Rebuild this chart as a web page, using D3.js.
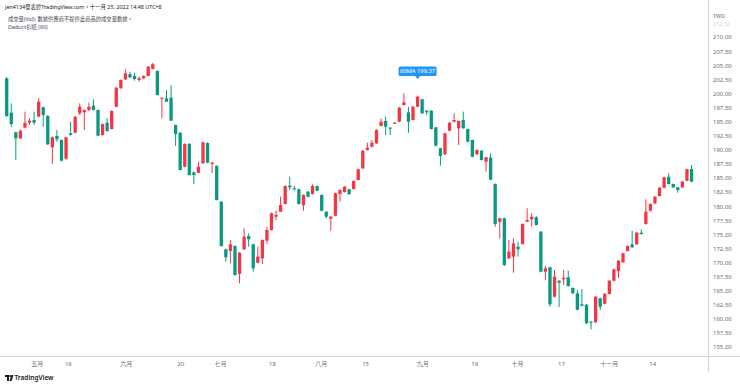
<!DOCTYPE html>
<html>
<head>
<meta charset="utf-8">
<script src="https://cdn.jsdelivr.net/npm/d3@7"></script>
<style>
  html, body { margin: 0; padding: 0; background: #fff; }
  text { font-family: "Noto Sans", "Noto Sans CJK TC", sans-serif; }
</style>
</head>
<body>
<div id="chart"></div>
<script>
// K線資料 (每日 開/高/低/收)
var opens = [202.67,196.57,193.09,192.03,193.91,194.79,195.27,195.86,197.53,195.98,
  190.43,192.43,191.72,188.41,192.91,193.02,196.46,196.64,197.05,197.81,
  197.05,192.61,194.79,193.68,197.63,200.90,202.49,203.38,203.08,202.37,
  202.67,203.08,204.32,203.97,199.05,199.12,199.23,194.39,193.02,186.99,
  191.02,185.99,185.92,187.59,191.19,187.47,187.11,180.78,172.33,172.03,
  172.92,167.95,172.33,174.69,173.22,169.95,170.73,173.86,175.76,178.12,
  179.00,180.37,183.62,183.15,182.98,180.14,182.55,182.14,183.56,181.97,
  179.00,177.76,178.29,182.14,182.50,182.98,183.03,184.63,186.70,189.95,
  190.54,191.14,194.21,195.10,193.91,194.69,194.97,197.93,196.64,195.27,
  197.63,198.95,196.92,196.92,193.98,190.25,189.19,193.37,194.97,193.80,
  195.27,193.68,191.72,189.19,189.83,187.87,188.62,183.92,177.23,177.83,
  170.73,171.02,172.79,173.27,177.23,177.65,178.01,175.45,168.36,169.14,
  163.92,166.76,167.01,167.36,165.47,164.52,162.57,162.50,159.49,159.38,
  163.64,162.68,164.40,166.76,168.48,170.02,172.03,173.22,173.22,175.28,
  176.82,179.18,180.49,181.79,183.26,185.21,183.92,183.33,183.33,184.50,
  186.58];
var highs = [202.90,198.24,193.20,193.62,196.75,195.57,196.75,199.12,197.67,196.16,
  192.35,193.50,191.81,192.31,194.97,195.98,198.24,197.14,198.34,198.95,
  197.14,194.65,195.57,196.99,201.13,202.49,204.27,203.84,203.67,202.96,
  203.20,204.85,205.39,204.06,199.30,200.60,201.48,194.47,193.14,191.14,
  191.19,186.14,187.87,191.42,191.32,187.82,187.23,180.90,172.44,173.98,
  173.04,171.85,176.06,175.17,173.36,172.79,174.11,176.34,178.86,179.18,
  181.66,183.69,185.21,183.56,183.09,182.06,182.68,183.87,183.65,182.06,
  179.13,178.24,182.38,182.98,183.56,183.09,184.57,186.64,189.95,191.25,
  191.72,193.62,195.57,195.86,194.03,194.92,197.58,200.01,197.63,197.76,
  199.60,199.05,197.05,197.05,194.03,190.36,193.02,194.92,196.46,195.18,
  196.75,193.77,191.81,190.04,189.95,188.71,189.37,184.04,177.94,177.94,
  173.98,174.28,173.68,176.94,179.61,178.72,178.24,175.58,169.37,169.25,
  168.66,166.88,168.66,168.54,165.56,165.11,165.29,162.63,159.61,164.04,
  163.74,164.58,166.88,168.89,170.43,171.73,173.04,175.63,175.40,175.88,
  181.20,180.49,181.78,183.39,185.21,185.82,184.00,183.42,184.45,186.64,
  187.29];
var lows = [195.81,194.08,188.18,191.90,193.80,194.39,194.39,195.81,194.08,190.84,
  187.47,191.42,187.95,188.18,192.52,192.91,196.16,193.50,196.87,196.96,
  192.38,192.49,193.20,193.59,197.53,200.83,202.37,202.67,202.25,202.07,
  202.55,203.00,204.23,199.62,195.57,198.47,195.10,190.66,186.31,186.88,
  185.43,183.92,185.82,187.47,187.59,185.87,180.99,172.79,170.13,169.85,
  167.65,166.30,172.21,172.79,168.36,169.85,169.72,173.27,175.67,177.53,
  178.95,180.28,182.85,182.73,180.28,179.18,181.56,182.06,182.64,179.07,
  177.83,175.63,178.19,180.78,182.38,182.00,182.94,184.54,186.58,189.86,
  190.43,191.02,194.12,192.61,192.61,194.56,194.86,197.85,193.02,195.18,
  197.58,196.34,196.16,193.59,190.61,187.16,189.06,193.27,194.86,190.84,
  193.71,191.32,188.66,189.06,188.09,186.10,184.57,176.34,174.28,169.37,
  170.61,168.18,171.02,173.18,177.18,176.34,176.56,168.25,166.88,162.15,
  163.81,162.09,166.00,165.73,164.40,161.51,162.22,159.08,158.14,159.25,
  161.56,162.57,164.31,166.65,167.24,169.90,171.94,172.60,173.10,174.96,
  176.73,179.07,180.37,181.70,183.15,183.83,183.24,182.38,183.21,184.39,
  184.22];
var closes = [195.98,194.56,192.03,193.37,194.79,195.15,194.79,198.52,196.16,190.96,
  192.20,191.85,188.05,192.20,192.61,195.86,197.63,197.05,197.63,197.05,
  192.49,194.56,193.32,196.87,201.00,202.37,203.56,202.85,202.55,202.67,
  203.08,204.73,205.16,199.71,199.23,198.52,195.15,192.79,186.40,191.02,
  185.51,185.51,186.99,191.32,187.70,187.70,181.08,172.92,170.91,173.22,
  167.77,171.73,174.57,174.11,168.96,171.02,173.98,175.76,178.72,178.42,
  180.19,183.56,183.33,182.98,180.37,181.97,181.66,183.56,182.73,179.18,
  178.12,178.12,182.27,182.85,183.44,182.11,184.45,186.53,189.83,190.36,
  191.25,193.50,194.97,194.08,193.80,194.79,197.46,198.41,194.97,197.63,
  199.41,196.46,196.64,193.68,190.71,188.89,192.91,194.79,195.27,195.10,
  193.80,191.42,188.76,189.95,188.18,188.66,184.68,176.82,177.83,169.55,
  171.91,173.40,172.33,176.82,177.53,178.12,176.64,168.36,168.96,162.57,
  167.47,166.41,167.29,165.82,164.52,161.62,162.32,159.20,159.31,163.92,
  162.15,164.44,166.76,168.78,170.29,171.62,172.92,172.69,175.28,175.05,
  179.00,180.37,181.66,183.26,185.11,183.92,183.33,182.85,184.33,186.53,
  184.33];

// 時間軸標籤 (以K棒序號定位)
var timeTickPos = [6.6, 13.4, 26.1, 38, 46.7, 58.1, 68.8, 78.5, 91, 102.4, 111.8, 121.4, 131.9, 141.4];
var timeTickLabels = ["五月","16","六月","20","七月","18","八月","15","九月","19","十月","17","十一月","14"];

// 價格軸刻度
var priceTicks = [155,157.5,160,162.5,165,167.5,170,172.5,175,177.5,180,182.5,185,187.5,190,192.5,195,197.5,200,202.5,205,207.5,210];

// 扣抵標記
var maLabel = "60MA 199.37", maIndex = 90, maPrice = 203.1;

var W = 740, H = 385;
var upColor = "#f23645", downColor = "#089981";

var svg = d3.select("#chart").append("svg")
    .attr("width", W).attr("height", H);

var x = d3.scaleLinear().domain([0, opens.length - 1]).range([6.7, 691.5]);
var y = d3.scaleLinear().domain([155, 210]).range([347, 37]);

var data = opens.map(function(o, i) {
  return {i: i, o: o, h: highs[i], l: lows[i], c: closes[i]};
});

// 右側價格軸
var yAxis = svg.append("g")
    .attr("transform", "translate(709,0)")
    .call(d3.axisRight(y).tickValues(priceTicks).tickSize(0).tickPadding(4)
      .tickFormat(d3.format(".2f")));
yAxis.select(".domain").remove();
yAxis.selectAll("text").attr("fill", "#6a6d78").style("font-size", "6px");

svg.append("text").attr("x", 713).attr("y", 24.5).attr("dy", "0.32em")
  .attr("fill", "#6a6d78").attr("opacity", 0.3).style("font-size", "5.5px")
  .text(d3.format(".2f")(212.5));
svg.append("text").attr("x", 713).attr("y", 16).attr("dy", "0.32em")
  .attr("fill", "#6a6d78").style("font-size", "5.5px").text("TWD");

// 下方時間軸
var xAxis = svg.append("g")
    .attr("transform", "translate(0,356)")
    .call(d3.axisBottom(x).tickValues(timeTickPos).tickSize(0).tickPadding(6)
      .tickFormat(function(d, k) { return timeTickLabels[k]; }));
xAxis.select(".domain").remove();
xAxis.selectAll("text").attr("fill", "#6a6d78").style("font-size", "6px");

// 軸線
svg.append("line").attr("x1", 0).attr("x2", W).attr("y1", 356.5).attr("y2", 356.5)
  .attr("stroke", "#d1d4dc").attr("stroke-width", 1);
svg.append("line").attr("x1", 708.5).attr("x2", 708.5).attr("y1", 0).attr("y2", 372)
  .attr("stroke", "#d1d4dc").attr("stroke-width", 1);

// K棒
var bw = 3.3;
var candles = svg.append("g").selectAll("g")
  .data(data).enter().append("g");
candles.append("line")
  .attr("x1", function(d) { return x(d.i); })
  .attr("x2", function(d) { return x(d.i); })
  .attr("y1", function(d) { return y(d.h); })
  .attr("y2", function(d) { return y(d.l); })
  .attr("stroke", function(d) { return d.c >= d.o ? upColor : downColor; })
  .attr("stroke-width", 1);
candles.append("rect")
  .attr("x", function(d) { return x(d.i) - bw / 2; })
  .attr("width", bw)
  .attr("y", function(d) { return y(Math.max(d.o, d.c)); })
  .attr("height", function(d) { return Math.max(1, Math.abs(y(d.o) - y(d.c))); })
  .attr("fill", function(d) { return d.c >= d.o ? upColor : downColor; });

// 60MA 扣抵標籤
var mx = x(maIndex), my = y(maPrice);
var lab = svg.append("g");
lab.append("rect").attr("x", mx - 19).attr("y", my - 9.5).attr("width", 38).attr("height", 9.5)
  .attr("rx", 1.5).attr("fill", "#2196f3");
lab.append("path")
  .attr("d", "M" + (mx - 2.5) + "," + my + "L" + mx + "," + (my + 3) + "L" + (mx + 2.5) + "," + my + "Z")
  .attr("fill", "#2196f3");
lab.append("text").attr("x", mx).attr("y", my - 4.7).attr("dy", "0.35em")
  .attr("text-anchor", "middle").attr("fill", "#fff").style("font-size", "5.8px").text(maLabel);

// 標題文字
svg.append("text").attr("x", 5).attr("y", 7).attr("dy", "0.35em")
  .attr("fill", "#131722").style("font-size", "5.4px")
  .text("jen4134發表於TradingView.com，十一月 25, 2022 14:48 UTC+8");
svg.append("text").attr("x", 8).attr("y", 19).attr("dy", "0.35em")
  .attr("fill", "#434651").style("font-size", "5.3px")
  .text("成交量(Vol): 數據供應商不提供此商品的成交量數據。");
svg.append("text").attr("x", 8).attr("y", 27).attr("dy", "0.35em")
  .attr("fill", "#434651").style("font-size", "5.4px")
  .text("Deduct扣抵 (60)");

// TradingView 標誌
var logo = svg.append("g").attr("transform", "translate(5,375)");
logo.append("path").attr("d", "M0,0H4V6H2V2H0Z").attr("fill", "#131722");
logo.append("circle").attr("cx", 5.2).attr("cy", 1).attr("r", 1).attr("fill", "#131722");
logo.append("path").attr("d", "M6.5,0H8.5L6.5,6H4.5Z").attr("fill", "#131722");
svg.append("text").attr("x", 14.5).attr("y", 378).attr("dy", "0.35em")
  .attr("fill", "#131722").style("font-size", "6.5px").style("font-weight", "600")
  .text("TradingView");
</script>
</body>
</html>
